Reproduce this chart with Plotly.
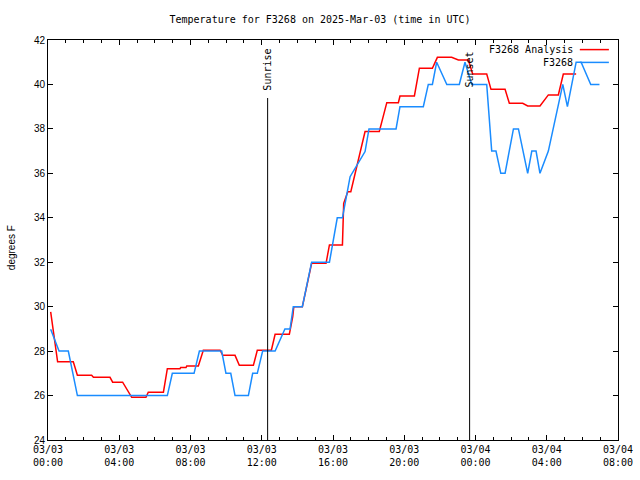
import pandas as pd
import plotly.graph_objects as go

BASE = pd.Timestamp("2025-03-03 00:00")

# Hours after 2025-03-03 00:00 UTC and temperature (degrees F)
analysis_hours = [0.15, 0.54, 1.42, 1.65, 2.45, 2.55, 3.48, 3.63, 4.19, 4.70, 5.50, 5.63,
                  6.48, 6.70, 7.41, 7.45, 7.75, 7.79, 8.44, 8.72, 9.66, 9.81, 10.50, 10.74,
                  11.53, 11.75, 12.54, 12.75, 13.55, 13.74, 13.80, 14.28, 14.80, 15.61, 15.80,
                  16.53, 16.60, 16.83, 17.00, 17.80, 18.60, 19.02, 19.67, 19.76, 20.57, 20.85,
                  21.58, 21.86, 22.66, 23.04, 23.60, 23.84, 24.63, 24.87, 25.66, 25.90, 26.65,
                  26.93, 27.62, 28.09, 28.65, 28.93, 29.65]
analysis_temp = [29.77, 27.52, 27.52, 26.91, 26.91, 26.82, 26.82, 26.60, 26.60, 25.92, 25.92, 26.15,
                 26.15, 27.21, 27.21, 27.26, 27.26, 27.33, 27.33, 28.04, 28.04, 27.81, 27.81, 27.36,
                 27.36, 28.04, 28.04, 28.76, 28.76, 29.55, 30.00, 30.00, 31.95, 31.95, 32.78,
                 32.78, 34.65, 35.17, 35.17, 37.88, 37.88, 39.18, 39.18, 39.48, 39.48, 40.73,
                 40.73, 41.22, 41.22, 41.10, 41.10, 40.47, 40.47, 39.78, 39.78, 39.15, 39.15,
                 39.03, 39.03, 39.53, 39.53, 40.47, 40.47]

obs_hours = [0.15, 0.62, 1.14, 1.65, 6.70, 6.98, 8.20, 8.50, 9.75, 9.99, 10.26, 10.50, 11.25,
             11.49, 11.75, 12.05, 12.75, 13.30, 13.59, 13.77, 14.28, 14.80, 15.80, 16.24, 16.53,
             16.96, 17.80, 18.02, 19.54, 19.76, 21.07, 21.35, 21.58, 21.82, 22.39, 23.09, 23.41,
             23.79, 24.63, 24.91, 25.15, 25.42, 25.66, 26.13, 26.41, 26.93, 27.16, 27.40, 27.62,
             28.09, 28.90, 29.16, 29.65, 29.93, 30.47, 30.96]
obs_temp = [28.98, 28.0, 28.0, 26.0, 26.0, 27.0, 27.0, 28.0, 28.0, 27.0, 27.0, 26.0, 26.0,
            27.0, 27.0, 28.0, 28.0, 29.0, 29.0, 30.0, 30.0, 32.0, 32.0, 34.0, 34.0,
            35.85, 36.98, 38.0, 38.0, 39.0, 39.0, 40.0, 40.0, 41.0, 40.0, 40.0, 41.0,
            40.0, 40.0, 37.0, 37.0, 36.0, 36.0, 38.0, 38.0, 36.0, 37.0, 37.0, 36.0,
            37.0, 40.0, 39.0, 41.0, 41.0, 40.0, 40.0]

sunrise_hour = 12.33
sunset_hour = 23.67

series_names = ["F3268 Analysis", "F3268"]
x_start, x_end = "2025-03-03 00:00", "2025-03-04 08:00"
y_min, y_max = 24, 42


def to_time(hours):
    return [BASE + pd.Timedelta(hours=h) for h in hours]


RED = "#ff0000"
BLUE = "#1a8cff"
MONO = "DejaVu Sans Mono"
SANS = "Liberation Sans"

fig = go.Figure()
fig.add_trace(go.Scatter(x=to_time(analysis_hours), y=analysis_temp, mode="lines",
                         name=series_names[0], line=dict(color=RED, width=1.5),
                         showlegend=False))
fig.add_trace(go.Scatter(x=to_time(obs_hours), y=obs_temp, mode="lines",
                         name=series_names[1], line=dict(color=BLUE, width=1.5),
                         showlegend=False))

# Sunrise / sunset markers
for h, label in [(sunrise_hour, "Sunrise"), (sunset_hour, "Sunset")]:
    t = BASE + pd.Timedelta(hours=h)
    fig.add_shape(type="line", xref="x", yref="paper", x0=t, x1=t, y0=0, y1=0.855,
                  line=dict(color="black", width=1))
    fig.add_annotation(x=t, xref="x", y=0.925, yref="paper", text=label, textangle=-90,
                       showarrow=False, font=dict(family=MONO, size=10, color="black"),
                       xanchor="center", yanchor="middle")

# Custom gnuplot-style legend (text left of line sample)
legend_rows = [(series_names[0], RED, 0.976), (series_names[1], BLUE, 0.944)]
for name, col, yy in legend_rows:
    fig.add_annotation(x=0.925, xref="paper", y=yy, yref="paper", text=name,
                       showarrow=False, xanchor="right", yanchor="middle",
                       font=dict(family=MONO, size=10, color="black"))
    fig.add_shape(type="line", xref="paper", yref="paper", x0=0.933, x1=0.984,
                  y0=yy, y1=yy, line=dict(color=col, width=1.5))

# Y-axis title
fig.add_annotation(x=-0.065, xref="paper", y=0.482, yref="paper", text="degrees F",
                   textangle=-90, showarrow=False, xanchor="center", yanchor="middle",
                   font=dict(family=SANS, size=10, color="black"))

fig.update_layout(
    width=640, height=480,
    margin=dict(l=48, r=22, t=40, b=40, pad=0, autoexpand=False),
    paper_bgcolor="white", plot_bgcolor="white",
    title=dict(text="Temperature for F3268 on 2025-Mar-03 (time in UTC)",
               x=0.5, xanchor="center", y=1 - 19 / 480, yanchor="middle", yref="container",
               font=dict(family=MONO, size=10, color="black")),
    xaxis=dict(
        type="date", range=[x_start, x_end], automargin=False,
        tickmode="linear", tick0=x_start, dtick=4 * 3600000,
        tickformat="%m/%d<br>%H:%M",
        ticks="inside", ticklen=5, tickcolor="black", tickwidth=1,
        minor=dict(tickmode="linear", tick0=x_start, dtick=3600000, ticks="inside",
                   ticklen=3, tickcolor="black", tickwidth=1, showgrid=False),
        showline=True, linecolor="black", linewidth=1, mirror="ticks",
        showgrid=False, zeroline=False,
        tickfont=dict(family=MONO, size=10, color="black"),
    ),
    yaxis=dict(
        range=[y_min, y_max], tickmode="linear", tick0=y_min, dtick=2, automargin=False,
        ticks="inside", ticklen=5, tickcolor="black", tickwidth=1,
        showline=True, linecolor="black", linewidth=1, mirror="ticks",
        showgrid=False, zeroline=False,
        tickfont=dict(family=SANS, size=10, color="black"),
    ),
)

fig.write_html("out.html")
